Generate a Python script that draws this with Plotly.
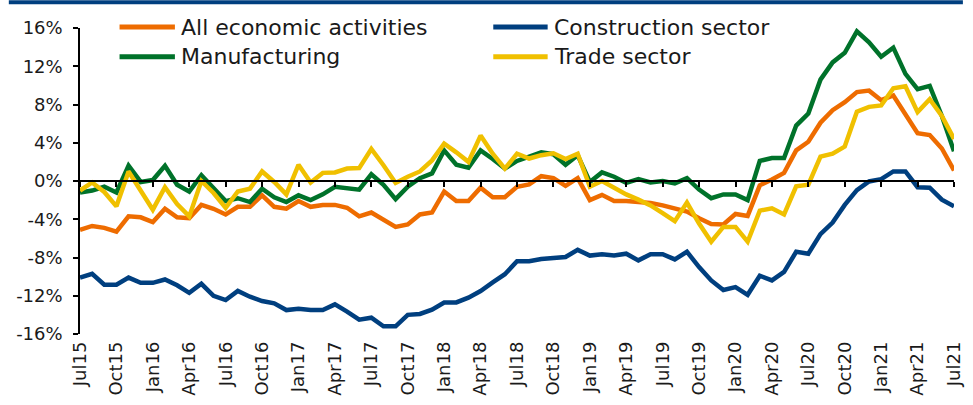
import plotly.graph_objects as go

# ---------------- data (monthly, Jul 2015 – Jul 2021), % y/y ----------------
month_names = ["Jan", "Feb", "Mar", "Apr", "May", "Jun",
               "Jul", "Aug", "Sep", "Oct", "Nov", "Dec"]
months = []
for i in range(73):
    k = 6 + i
    months.append(f"{month_names[k % 12]}{15 + k // 12}")

all_activities = [
    -5.1, -4.7, -4.9, -5.3, -3.7, -3.8, -4.3, -2.9, -3.8, -3.9, -2.5, -2.9,
    -3.5, -2.7, -2.7, -1.5, -2.7, -2.9, -2.1, -2.7, -2.5, -2.5, -2.8, -3.7,
    -3.3, -4.1, -4.8, -4.55, -3.5, -3.3, -1.1, -2.1, -2.1, -0.7, -1.7, -1.7,
    -0.6, -0.35, 0.5, 0.3, -0.5, 0.3, -2.0, -1.45, -2.1, -2.1, -2.15, -2.3,
    -2.55, -2.9, -3.2, -3.9, -4.5, -4.55, -3.45, -3.65, -0.45, 0.15, 0.85, 3.2,
    4.1, 6.1, 7.4, 8.25, 9.3, 9.45, 8.45, 8.95, 6.9, 5.0, 4.8, 3.4,
    1.1,
]
construction = [
    -10.1, -9.7, -10.85, -10.85, -10.1, -10.65, -10.65, -10.3, -10.9, -11.7, -10.75, -12.0,
    -12.45, -11.5, -12.1, -12.55, -12.8, -13.5, -13.35, -13.5, -13.5, -12.9, -13.65, -14.5,
    -14.3, -15.2, -15.2, -14.0, -13.9, -13.45, -12.7, -12.7, -12.2, -11.5, -10.6, -9.75,
    -8.4, -8.4, -8.15, -8.0, -7.95, -7.2, -7.8, -7.65, -7.8, -7.6, -8.3, -7.65,
    -7.65, -8.2, -7.4, -9.0, -10.4, -11.4, -11.1, -11.9, -9.9, -10.4, -9.5, -7.4,
    -7.6, -5.55, -4.35, -2.5, -0.95, -0.05, 0.2, 1.0, 1.0, -0.65, -0.7, -1.95,
    -2.65,
]
manufacturing = [
    -1.2, -1.0, -0.6, -1.2, 1.6, -0.1, 0.1, 1.6, -0.4, -1.1, 0.6, -0.8,
    -2.1, -1.8, -2.2, -0.8, -1.7, -2.2, -1.5, -2.0, -1.4, -0.6, -0.7, -0.9,
    0.7, -0.4, -1.9, -0.6, 0.3, 0.8, 3.2, 1.7, 1.4, 3.2, 2.3, 1.3,
    2.1, 2.5, 3.0, 2.8, 1.7, 2.7, -0.1, 0.9, 0.45, -0.2, 0.2, -0.15,
    0.0, -0.25, 0.3, -0.9, -1.8, -1.4, -1.4, -2.0, 2.1, 2.4, 2.4, 5.8,
    7.05, 10.6, 12.4, 13.4, 15.65, 14.5, 13.0, 13.95, 11.2, 9.6, 9.95, 6.8,
    3.1,
]
trade = [
    -1.0, -0.15, -1.15, -2.65, 1.0, -1.05, -3.0, -0.65, -2.4, -3.7, 0.0, -1.25,
    -2.8, -1.1, -0.8, 1.0, -0.1, -1.4, 1.7, -0.15, 0.85, 0.9, 1.3, 1.35,
    3.35, 1.65, -0.2, 0.45, 1.0, 2.15, 3.9, 3.0, 2.0, 4.75, 2.85, 1.3,
    2.85, 2.35, 2.7, 2.9, 2.3, 2.85, -0.6, 0.0, -0.75, -1.4, -1.95, -2.55,
    -3.35, -4.2, -2.25, -4.45, -6.35, -4.8, -4.8, -6.35, -3.1, -2.85, -3.5, -0.55,
    -0.38, 2.55, 2.85, 3.6, 7.25, 7.75, 7.9, 9.7, 9.9, 7.2, 8.55, 6.8,
    4.4,
]

series_names = ["All economic activities", "Construction sector",
                "Manufacturing", "Trade sector"]
series_values = [all_activities, construction, manufacturing, trade]
series_colors = ["#EE6C00", "#003F7F", "#00722A", "#F0C000"]

x_tick_labels = months[::3]
y_tick_values = [-16, -12, -8, -4, 0, 4, 8, 12, 16]
y_tick_labels = ["-16%", "-12%", "-8%", "-4%", "0%", "4%", "8%", "12%", "16%"]

# ---------------- figure ----------------
W, H = 973, 405
ML, MR, MT, MB = 80, 9, 28, 67
PW, PH = W - ML - MR, H - MT - MB
FONT = "DejaVu Sans"
TXT = "#1a1a1a"


def px_x(p):
    return (p - ML) / PW


def px_y(p):
    return (H - MB - p) / PH


fig = go.Figure()

for i in range(len(series_names)):
    fig.add_trace(go.Scatter(
        x=months, y=series_values[i], name=series_names[i], mode="lines",
        line=dict(color=series_colors[i], width=4.5),
        xaxis="x", yaxis="y", showlegend=False,
    ))

# invisible trace that carries the zero-level axis (line + tick marks)
fig.add_trace(go.Scatter(x=months, y=[None] * len(months), xaxis="x2",
                         yaxis="y", showlegend=False, hoverinfo="skip"))

fig.update_layout(
    width=W, height=H,
    margin=dict(l=ML, r=MR, t=MT, b=MB, pad=0),
    paper_bgcolor="white", plot_bgcolor="white",
    font=dict(family=FONT, color=TXT),
    showlegend=False,
    xaxis=dict(
        type="category", range=[0, 72], tickmode="array",
        tickvals=x_tick_labels, ticktext=x_tick_labels, tickangle=-90,
        showline=False, ticks="", showgrid=False, zeroline=False,
        ticklabelstandoff=3,
        tickfont=dict(size=18, family=FONT, color=TXT),
        anchor="y",
    ),
    xaxis2=dict(
        type="category", range=[0, 72], overlaying="x", anchor="free",
        position=0.5, side="bottom", tickmode="array",
        tickvals=x_tick_labels, showticklabels=False,
        showline=True, linecolor="black", linewidth=2,
        ticks="outside", ticklen=5, tickwidth=1.5, tickcolor="black",
        showgrid=False, zeroline=False,
    ),
    yaxis=dict(
        range=[-16, 16], tickmode="array", tickvals=y_tick_values,
        ticktext=y_tick_labels, showline=True, linecolor="black",
        linewidth=1.5, ticks="outside", ticklen=5, tickwidth=1.5,
        tickcolor="black", showgrid=False, zeroline=False,
        ticklabelstandoff=7,
        tickfont=dict(size=18, family=FONT, color=TXT),
    ),
)

# top dark-blue band
fig.add_shape(type="rect", xref="paper", yref="paper",
              x0=px_x(8), x1=px_x(W), y0=px_y(4), y1=px_y(0),
              line=dict(width=0), fillcolor="#003F7F", layer="above")

# legend (two columns, two rows)
legend_cols = [(120, 176, 180), (498, 553, 557)]
legend_rows = [27, 57]
legend_order = [0, 1, 2, 3]
for k, i in enumerate(legend_order):
    r, c = divmod(k, 2)
    x0, x1, xt = legend_cols[c]
    yc = legend_rows[r]
    fig.add_shape(type="line", xref="paper", yref="paper",
                  x0=px_x(x0), x1=px_x(x1), y0=px_y(yc), y1=px_y(yc),
                  line=dict(color=series_colors[i], width=5))
    fig.add_annotation(xref="paper", yref="paper", x=px_x(xt), y=px_y(yc),
                       text=series_names[i], showarrow=False,
                       xanchor="left", yanchor="middle",
                       font=dict(size=22, family=FONT, color=TXT))

fig.write_html("out.html",
               config={"displayModeBar": False},
               post_script="document.body.style.margin='0';")
